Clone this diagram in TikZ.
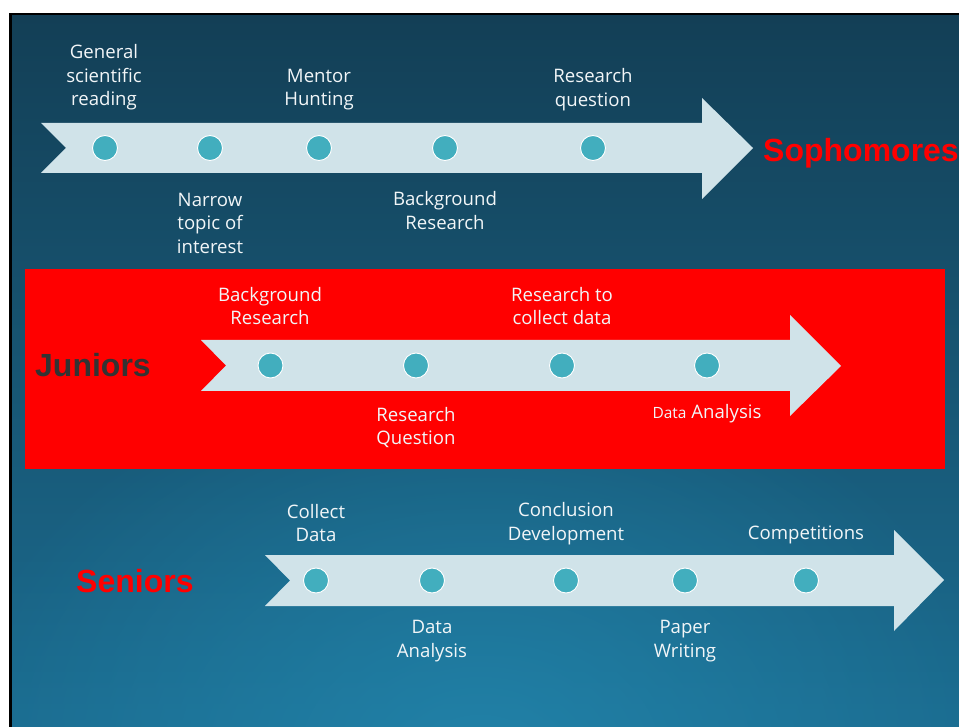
\documentclass[tikz,border=0pt]{standalone}
\usepackage{fontspec}
\setmainfont{Open Sans}
\newfontfamily\classfont{Liberation Sans}
\usetikzlibrary{fadings}
\definecolor{bgtop}{HTML}{133F56}
\definecolor{bgbot}{HTML}{1B6C90}
\definecolor{bglight}{HTML}{2389B0}
\definecolor{bandc}{HTML}{D0E3E9}
\definecolor{dotc}{HTML}{42AEBE}
\definecolor{juniorc}{HTML}{333333}
\definecolor{lblc}{HTML}{F2F6F8}
\tikzfading[name=glow, inner color=transparent!25, outer color=transparent!100]
\begin{document}
\begin{tikzpicture}[x=1pt,y=-1pt,
  lbl/.style={text=lblc, font=\fontsize{18.6}{23.5}\selectfont, align=center, inner sep=0pt},
  dot/.style={circle, fill=dotc, draw=white, line width=0.9pt, minimum size=25pt, inner sep=0pt},
  bandfill/.style={fill=bandc},
  cls/.style={font=\classfont\bfseries\fontsize{32}{36}\selectfont, inner sep=0pt, anchor=base west},
]
\useasboundingbox (0,0) rectangle (959,727);
\fill[white] (0,0) rectangle (959,727);
\fill[black] (9,13) rectangle (959,727);
\shade[top color=bgtop, bottom color=bgbot] (12,16) rectangle (959,727);
\begin{scope}
\clip (12,16) rectangle (959,727);
\fill[bglight, path fading=glow] (480,760) ellipse (540 and 400);
\end{scope}

% Sophomores
\fill[bandfill] (41,123) -- (702,123) -- (702,98) -- (753,148) -- (702,199) -- (702,173) -- (41,173) -- (66,148) -- cycle;
\node[dot] (s1) at (105,148) {};
\node[dot] (s2) at (210,148) {};
\node[dot] (s3) at (319,148) {};
\node[dot] (s4) at (445,148) {};
\node[dot] (s5) at (593,148) {};
\node[lbl] (ls1) at (104,77.5) {General\\scientific\\reading};
\node[lbl] (ls2) at (210,223) {Narrow\\topic of\\interest};
\node[lbl] (ls3) at (319,89.5) {Mentor\\Hunting};
\node[lbl] (ls4) at (445,210.5) {Background\\Research};
\node[lbl] (ls5) at (593,89.5) {Research\\question};
\node[cls, text=red] (soph) at (763,162) {Sophomores};

% Juniors
\fill[red] (25,269) rectangle (945,469);
\fill[bandfill] (201,340) -- (790,340) -- (790,315) -- (841,366) -- (790,416) -- (790,391) -- (201,391) -- (226,365.5) -- cycle;
\node[dot] (j1) at (270.5,365.5) {};
\node[dot] (j2) at (416,365.5) {};
\node[dot] (j3) at (562,365.5) {};
\node[dot] (j4) at (707,365.5) {};
\node[lbl] (lj1) at (270,306) {Background\\Research};
\node[lbl] (lj2) at (562,306) {Research to\\collect data};
\node[lbl] (lj3) at (416,427.5) {Research\\Question};
\node[lbl] (lj4) at (707,414) {{\fontsize{15.5}{18}\selectfont Data} Analysis};
\node[cls, text=juniorc] (jun) at (35,377) {Juniors};

% Seniors
\fill[bandfill] (265,555) -- (894,555) -- (894,530) -- (944,580) -- (894,631) -- (894,606) -- (265,606) -- (290,580.5) -- cycle;
\node[dot] (n1) at (316,580.5) {};
\node[dot] (n2) at (432,580.5) {};
\node[dot] (n3) at (566,580.5) {};
\node[dot] (n4) at (685,580.5) {};
\node[dot] (n5) at (806,580.5) {};
\node[lbl] (ln1) at (316,523) {Collect\\Data};
\node[lbl] (ln2) at (432,641) {Data\\Analysis};
\node[lbl] (ln3) at (566,523.5) {Conclusion\\Development};
\node[lbl] (ln4) at (685,641) {Paper\\Writing};
\node[lbl] (ln5) at (806,535) {Competitions};
\node[cls, text=red] (sen) at (76,592) {Seniors};
\end{tikzpicture}
\end{document}
